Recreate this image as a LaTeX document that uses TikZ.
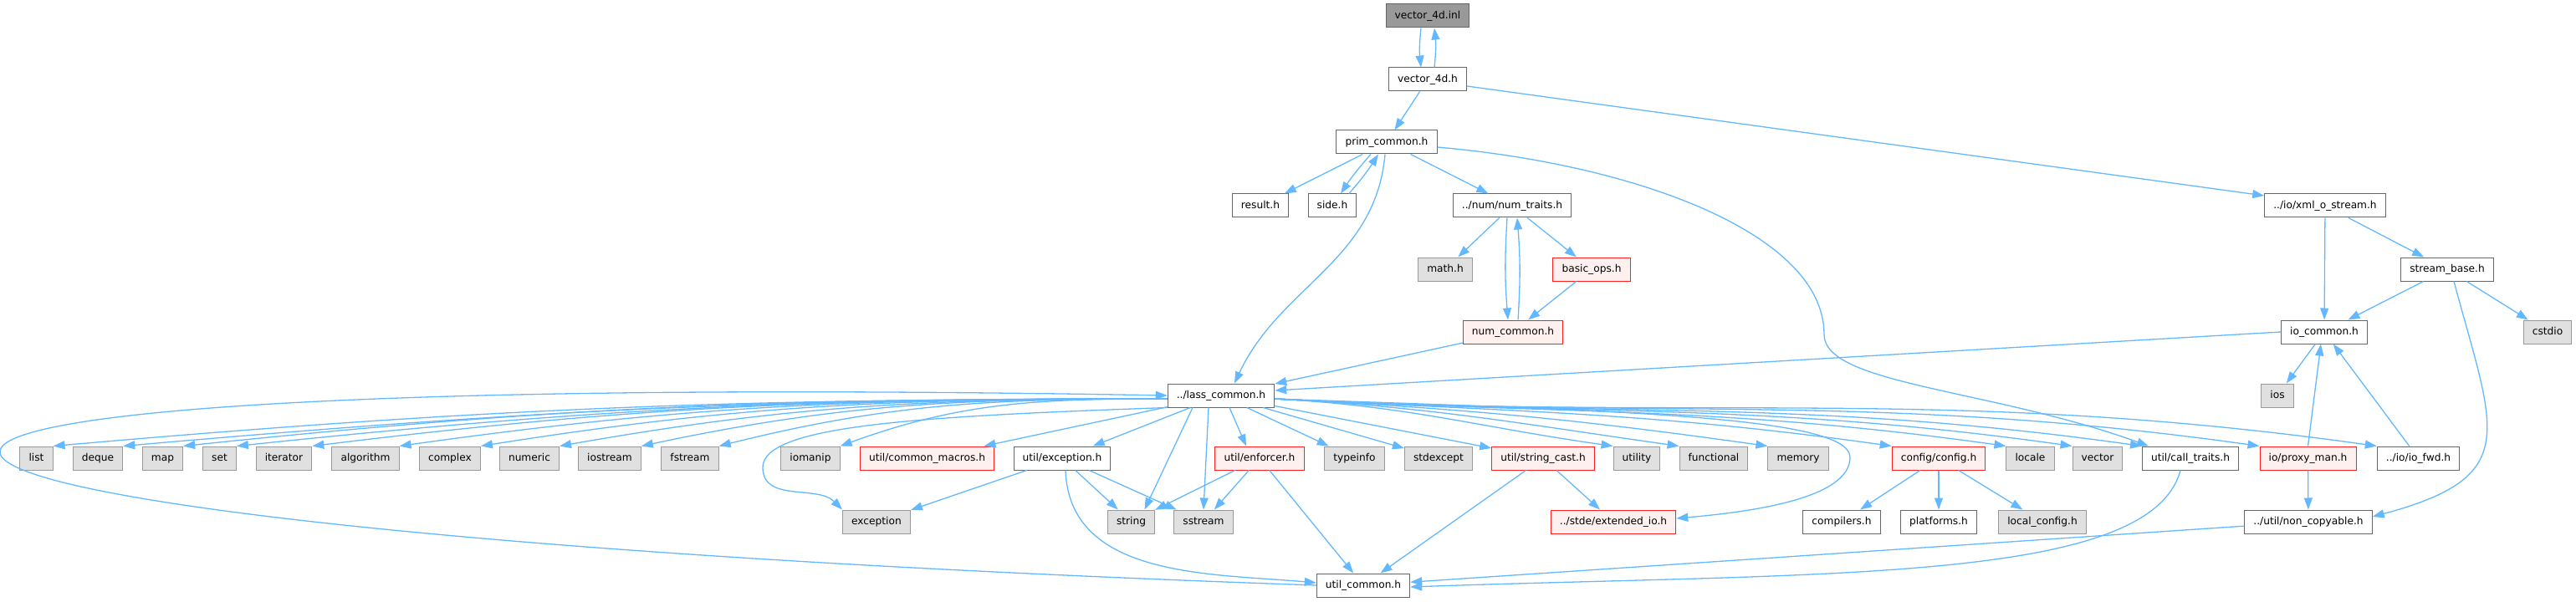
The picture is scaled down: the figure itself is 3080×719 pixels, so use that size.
\documentclass[tikz,border=0pt]{standalone}
\usepackage{fontspec}
\setmainfont{DejaVu Sans}
\usetikzlibrary{arrows.meta}

\definecolor{incblue}{HTML}{63B8FF}
\definecolor{hdrline}{HTML}{666666}
\definecolor{sysline}{HTML}{999999}
\definecolor{sysfill}{HTML}{E0E0E0}
\definecolor{redline}{HTML}{FF2020}
\definecolor{redfill}{HTML}{FFF0F0}
\definecolor{topfill}{HTML}{999999}

\begin{document}
\begin{tikzpicture}[x=0.5pt,y=0.5pt,
    hdr/.style={rectangle,draw=hdrline,fill=white,line width=0.5pt,minimum height=14pt,
      inner xsep=5.3pt,inner ysep=0pt,text height=4.6pt,text depth=1.4pt,
      font=\fontsize{6.1pt}{7pt}\selectfont},
    syshdr/.style={hdr,draw=sysline,fill=sysfill},
    redhdr/.style={hdr,draw=redline,fill=redfill},
    tophdr/.style={hdr,fill=topfill},
    inc/.style={draw=incblue,line width=0.65pt,->},
    >={Triangle[length=7pt,width=5pt]}]
    \useasboundingbox (0,0) rectangle (3080,719);

    % --- upper part ---
    \node[tophdr] (inl) at (1707,700) {vector\_4d.inl};
    \node[hdr] (v4d) at (1707,624) {vector\_4d.h};
    \node[hdr] (prim) at (1658,549) {prim\_common.h};
    \node[hdr] (result) at (1507,473) {result.h};
    \node[hdr] (side) at (1593,473) {side.h};
    \node[hdr] (numtr) at (1808,473) {../num/num\_traits.h};
    \node[hdr] (xml) at (2780,473) {../io/xml\_o\_stream.h};
    \node[syshdr] (math) at (1728,397) {math.h};
    \node[redhdr] (basic) at (1903,397) {basic\_ops.h};
    \node[hdr] (stream) at (2926,397) {stream\_base.h};
    \node[redhdr] (numc) at (1809,322) {num\_common.h};
    \node[hdr] (iocom) at (2779,322) {io\_common.h};
    \node[syshdr] (cstdio) at (3046,322) {cstdio};
    \node[hdr] (lass) at (1460,246) {../lass\_common.h};
    \node[syshdr] (ios) at (2723,246) {ios};

    % --- row of includes of lass_common.h ---
    \node[syshdr] (list) at (43.5,171) {list};
    \node[syshdr] (deque) at (117,171) {deque};
    \node[syshdr] (map) at (194.5,171) {map};
    \node[syshdr] (set) at (262.5,171) {set};
    \node[syshdr] (iterator) at (339.5,171) {iterator};
    \node[syshdr] (algorithm) at (437,171) {algorithm};
    \node[syshdr] (complex) at (538,171) {complex};
    \node[syshdr] (numeric) at (633,171) {numeric};
    \node[syshdr] (iostream) at (729,171) {iostream};
    \node[syshdr] (fstream) at (825,171) {fstream};
    \node[syshdr] (iomanip) at (969,171) {iomanip};
    \node[redhdr] (macros) at (1108.5,171) {util/common\_macros.h};
    \node[hdr] (utilexc) at (1270,171) {util/exception.h};
    \node[redhdr] (enforcer) at (1506,171) {util/enforcer.h};
    \node[syshdr] (typeinfo) at (1619.5,171) {typeinfo};
    \node[syshdr] (stdexcept) at (1720,171) {stdexcept};
    \node[redhdr] (strcast) at (1845,171) {util/string\_cast.h};
    \node[syshdr] (utility) at (1957,171) {utility};
    \node[syshdr] (functional) at (2049,171) {functional};
    \node[syshdr] (memory) at (2150,171) {memory};
    \node[redhdr] (config) at (2318,171) {config/config.h};
    \node[syshdr] (locale) at (2427.5,171) {locale};
    \node[syshdr] (vector) at (2508,171) {vector};
    \node[hdr] (calltr) at (2619,171) {util/call\_traits.h};
    \node[redhdr] (proxy) at (2759.5,171) {io/proxy\_man.h};
    \node[hdr] (iofwd) at (2891.5,171) {../io/io\_fwd.h};

    % --- lower rows ---
    \node[syshdr] (exc) at (1048,95) {exception};
    \node[syshdr] (string) at (1352.5,95) {string};
    \node[syshdr] (sstream) at (1439,95) {sstream};
    \node[redhdr] (extio) at (1929,95) {../stde/extended\_io.h};
    \node[hdr] (compilers) at (2202,95) {compilers.h};
    \node[hdr] (platforms) at (2318,95) {platforms.h};
    \node[syshdr] (localcfg) at (2442,95) {local\_config.h};
    \node[hdr] (noncp) at (2760,95) {../util/non\_copyable.h};
    \node[hdr] (utilc) at (1630,19) {util\_common.h};

    % --- vector_4d and prim_common ---
    \draw[inc] ([xshift=-4pt]inl.south) to[bend right=6] ([xshift=-4pt]v4d.north);
    \draw[inc] ([xshift=4pt]v4d.north) to[bend right=6] ([xshift=4pt]inl.south);
    \draw[inc] (v4d) -- (prim);
    \draw[inc] ([yshift=-4pt]v4d.east) -- ([yshift=6pt]xml.west);
    \draw[inc] (prim) -- (result);
    \draw[inc] ([xshift=-9.5pt]prim.south) to[bend right=4] ([xshift=5pt]side.north);
    \draw[inc] ([xshift=10pt]side.north) to[bend right=4] ([xshift=-5pt]prim.south);
    \draw[inc] (prim) -- (numtr);
    \draw[inc] ([xshift=-1pt]prim.south) to[out=-95,in=65] ([xshift=8pt]lass.north);
    \coordinate (ctbend) at (2181,319);
    \draw[inc] ([yshift=-3pt]prim.east) to[out=-5,in=90,out distance=120pt,in distance=60pt] (ctbend)
      to[out=-90,in=160,out distance=30pt,in distance=100pt] ([xshift=4pt]calltr.north west);

    % --- num_traits ---
    \draw[inc] (numtr) -- (math);
    \draw[inc] (numtr) -- (basic);
    \draw[inc] ([xshift=-3pt]numtr.south) to[bend right=4] ([xshift=-3pt]numc.north);
    \draw[inc] ([xshift=3pt]numc.north) to[bend right=4] ([xshift=3pt]numtr.south);
    \draw[inc] (basic) -- (numc);
    \draw[inc] (numc) -- (lass);

    % --- io side ---
    \draw[inc] (xml) -- (iocom);
    \draw[inc] (xml) -- (stream);
    \draw[inc] (stream) -- (iocom);
    \draw[inc] (stream) -- (cstdio);
    \draw[inc] ([xshift=4pt]stream.south) to[out=-75,in=15,looseness=1.6] ([yshift=3pt]noncp.east);
    \draw[inc] (iocom.west) -- ([yshift=3pt]lass.east);
    \draw[inc] (iocom) -- (ios);
    \draw[inc] (proxy.north) -- ([xshift=-2pt]iocom.south);
    \draw[inc] (iofwd) -- (iocom);
    \draw[inc] (proxy) -- (noncp);
    \draw[inc] (noncp) -- (utilc);
    \draw[inc] ([xshift=-6pt]calltr.south) to[out=-105,in=2,out distance=70pt,in distance=250pt] ([yshift=-1pt]utilc.east);

    % --- lass_common to the left ---
    \draw[inc] ([yshift=-2pt]lass.west) to[out=180,in=5] (list.north east);
    \draw[inc] ([yshift=-2pt]lass.west) to[out=180,in=5] (deque.north east);
    \draw[inc] ([yshift=-2pt]lass.west) to[out=180,in=6] (map.north east);
    \draw[inc] ([yshift=-2pt]lass.west) to[out=180,in=6] (set.north east);
    \draw[inc] ([yshift=-2pt]lass.west) to[out=180,in=7] (iterator.north east);
    \draw[inc] ([yshift=-2pt]lass.west) to[out=180,in=8] (algorithm.north east);
    \draw[inc] ([yshift=-2pt]lass.west) to[out=180,in=9] (complex.north east);
    \draw[inc] ([yshift=-2pt]lass.west) to[out=180,in=10] (numeric.north east);
    \draw[inc] ([yshift=-2pt]lass.west) to[out=180,in=12] (iostream.north east);
    \draw[inc] ([yshift=-2pt]lass.west) to[out=180,in=14] (fstream.north east);
    \draw[inc] ([yshift=-2pt]lass.west) to[out=180,in=20] (iomanip.north east);
    \draw[inc] (lass) -- (macros);
    \draw[inc] (lass) -- (utilexc);
    \coordinate (excbend) at (912,160);
    \draw[inc] (lass.south west) to[out=182,in=90,out distance=150pt,in distance=25pt] (excbend)
      to[out=-90,in=135] (exc.north west);
    \draw[inc] ([xshift=-17pt]lass.south) -- ([xshift=8pt]string.north);
    \draw[inc] ([xshift=-7.5pt]lass.south) -- (sstream.north);
    \draw[inc] ([xshift=5pt]lass.south) -- ([xshift=-8pt]enforcer.north);
    \draw[inc] (utilc.west) to[out=178,in=179,distance=987pt] (lass.west);

    % --- lass_common to the right ---
    \draw[inc] (lass) -- (typeinfo);
    \draw[inc] (lass) -- (stdexcept);
    \draw[inc] (lass) -- (strcast);
    \draw[inc] ([yshift=-2pt]lass.east) to[out=-3,in=172] (utility.north west);
    \draw[inc] ([yshift=-2pt]lass.east) to[out=-3,in=172] (functional.north west);
    \draw[inc] ([yshift=-2pt]lass.east) to[out=-3,in=172] (memory.north west);
    \draw[inc] ([yshift=-2pt]lass.east) to[out=-3,in=172] (config.north west);
    \draw[inc] ([yshift=-2pt]lass.east) to[out=-3,in=172] (locale.north west);
    \draw[inc] ([yshift=-2pt]lass.east) to[out=-3,in=172] (vector.north west);
    \draw[inc] ([yshift=-2pt]lass.east) to[out=-3,in=172] (calltr.north west);
    \draw[inc] ([yshift=-2pt]lass.east) to[out=-3,in=172] (proxy.north west);
    \draw[inc] ([yshift=-2pt]lass.east) to[out=-3,in=172] (iofwd.north west);
    \coordinate (xiobend) at (2212,172);
    \draw[inc] ([yshift=-2pt]lass.east) to[out=-2,in=90,out distance=200pt,in distance=25pt] (xiobend)
      to[out=-90,in=5,out distance=25pt] ([yshift=2pt]extio.east);

    % --- util headers ---
    \draw[inc] (utilexc) -- (exc);
    \draw[inc] (utilexc) -- (string);
    \draw[inc] (utilexc) -- (sstream);
    \draw[inc] ([xshift=2pt]utilexc.south) to[out=-88,in=175] ([yshift=1.5pt]utilc.west);
    \draw[inc] (enforcer) -- (string);
    \draw[inc] (enforcer) -- (sstream);
    \draw[inc] (enforcer) -- (utilc);
    \draw[inc] (strcast) -- (extio);
    \draw[inc] (strcast) -- (utilc);
    \draw[inc] (config) -- (compilers);
    \draw[inc] (config) -- (platforms);
    \draw[inc] (config) -- (localcfg);
\end{tikzpicture}
\end{document}
